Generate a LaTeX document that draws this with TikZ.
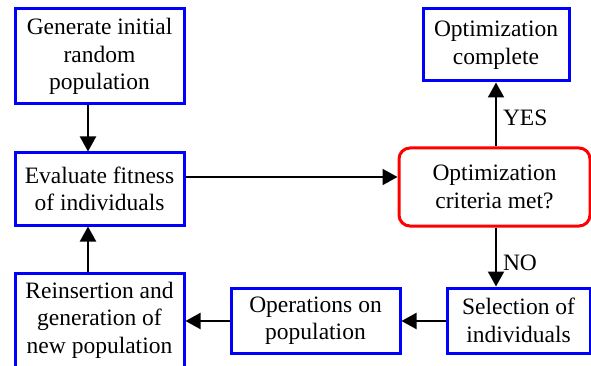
\documentclass[tikz,border=0pt]{standalone}
\usepackage{fontspec}
\setmainfont{Liberation Serif}
\usetikzlibrary{arrows.meta}
\begin{document}
\begin{tikzpicture}[x=1pt,y=-1pt,
  bluebox/.style={draw=blue, line width=3pt, fill=white, inner sep=0pt, align=center,
    font=\fontsize{23.5}{27.5}\selectfont},
  redbox/.style={draw=red, line width=3pt, rounded corners=11pt, inner sep=0pt, align=center,
    font=\fontsize{23.5}{27.5}\selectfont},
  conn/.style={line width=2pt, -{Triangle[length=15pt,width=16pt]}},
  lbl/.style={font=\fontsize{23.5}{27.5}\selectfont, inner sep=0pt, anchor=west}]
\useasboundingbox (0,0) rectangle (591,366);
\fill[white] (0,0) rectangle (591,366);
\node[bluebox, minimum width=169pt, minimum height=95pt] (gen) at (99.5,56.5) {Generate initial\\random\\population};
\node[bluebox, minimum width=169pt, minimum height=72pt] (eval) at (99.5,189) {Evaluate fitness\\of individuals};
\node[bluebox, minimum width=169pt, minimum height=94pt] (reins) at (99.5,320) {Reinsertion and\\generation of\\new population};
\node[bluebox, minimum width=146pt, minimum height=72pt] (done) at (496,45) {Optimization\\complete};
\node[redbox, minimum width=191pt, minimum height=78pt] (crit) at (494.5,187) {Optimization\\criteria met?};
\node[bluebox, minimum width=143pt, minimum height=65pt] (sel) at (518.5,320.5) {Selection of\\individuals};
\node[bluebox, minimum width=169pt, minimum height=65pt] (ops) at (315.5,320.5) {Operations on\\population};
\coordinate (xa) at (88,0);
\coordinate (ya) at (0,177);
\coordinate (yb) at (0,321);
\coordinate (xc) at (496,0);
\draw[conn] (gen.south -| xa) -- (eval.north -| xa);
\draw[conn] (reins.north -| xa) -- (eval.south -| xa);
\draw[conn] (eval.east |- ya) -- (crit.west |- ya);
\draw[conn] (crit.north -| xc) -- (done.south -| xc) node[lbl, pos=0.45, xshift=6pt] (yes) {YES};
\draw[conn] (crit.south -| xc) -- (sel.north -| xc) node[lbl, pos=0.6, xshift=6pt] (no) {NO};
\draw[conn] (sel.west |- yb) -- (ops.east |- yb);
\draw[conn] (ops.west |- yb) -- (reins.east |- yb);
\end{tikzpicture}
\end{document}
